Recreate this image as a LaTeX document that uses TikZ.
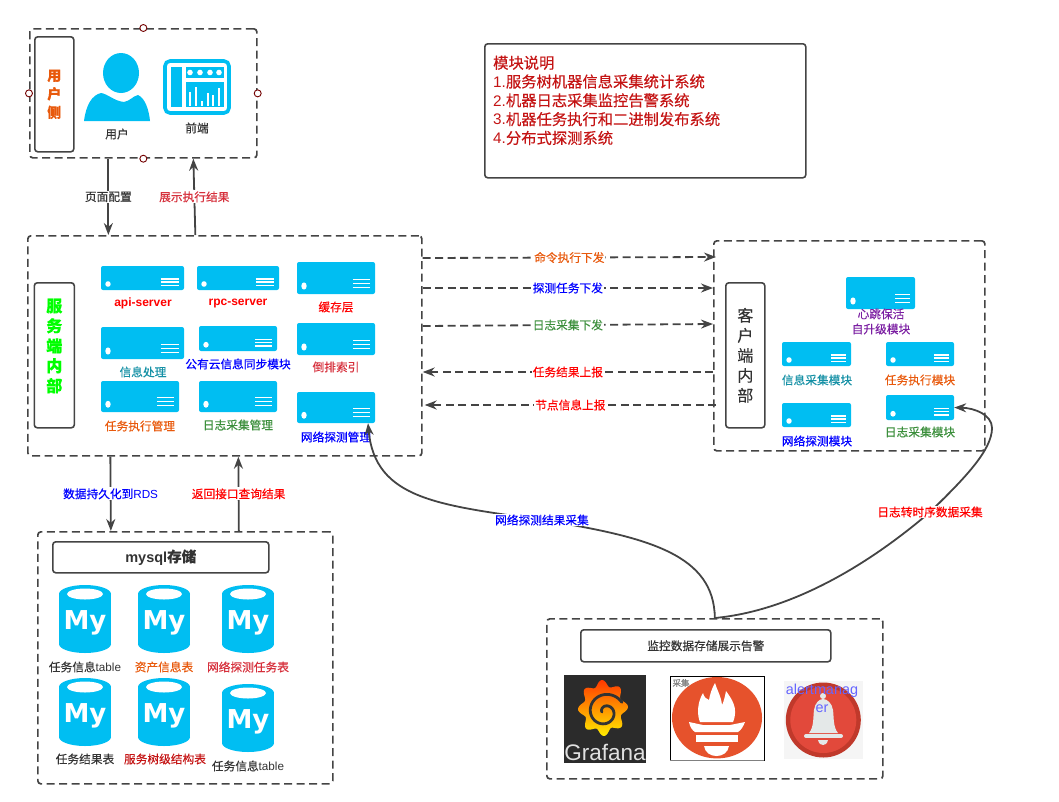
\documentclass[tikz,border=0pt]{standalone}
\usepackage{fontspec}
\setmainfont{Noto Sans CJK SC}[RawFeature={embolden=0.3}]
\newfontfamily\latfont{Liberation Sans}
\newfontfamily\logofont{DejaVu Sans}
\usetikzlibrary{arrows.meta}
\definecolor{iconblue}{HTML}{00BEF2}
\definecolor{linegray}{HTML}{444444}
\definecolor{txtgray}{HTML}{333333}
\definecolor{txtorange}{HTML}{E8590C}
\definecolor{txtgreen}{HTML}{3C8F3C}
\definecolor{txtteal}{HTML}{1590A5}
\definecolor{txtcrimson}{HTML}{D6303C}
\definecolor{txtdark}{HTML}{C41414}
\definecolor{txtpurple}{HTML}{7B1FA2}
\definecolor{promorange}{HTML}{E6522C}
\definecolor{alertring}{HTML}{C0392B}
\definecolor{alertfill}{HTML}{E2493B}
\definecolor{bellgray}{HTML}{E4E8E8}
\tikzset{
    dashbox/.style={draw=linegray, line width=1.7pt, dash pattern=on 8pt off 4.5pt, rounded corners=3pt, anchor=north west, inner sep=0pt},
    tagbox/.style={draw=linegray, line width=1.6pt, rounded corners=3pt, anchor=north west, inner sep=0pt, align=center},
    srvbody/.style={fill=iconblue, rounded corners=2pt, inner sep=0pt},
    txt/.style={font=\fontsize{11.7}{15}\selectfont, inner sep=1pt, align=center, text=txtgray},
    edgetxt/.style={txt, fill=white},
    arrowline/.style={draw=linegray, line width=1.8pt, -{Stealth[length=12pt,width=9pt]}},
    dasharrow/.style={arrowline, dash pattern=on 8pt off 4.5pt},
    handle/.style={circle, draw=red!45!black, fill=white, line width=0.9pt, minimum size=7pt, inner sep=0pt},
}
\newcommand{\serverbox}[5]{%
    \pgfmathsetmacro{\srvw}{#4-#2}
    \pgfmathsetmacro{\srvh}{#5-#3}
    \pgfmathsetmacro{\srvr}{0.1*\srvh+0.4}
    \node[srvbody, minimum width=\srvw pt, minimum height=\srvh pt] (#1) at ({(#2+#4)/2},{(#3+#5)/2}) {};
    \fill[white] ({#2+7},{#5-0.25*\srvh}) ellipse [x radius=2.7, y radius=\srvr];
    \foreach \lvl in {0.46,0.33,0.2}
        \draw[white, line width=1.2pt] ({#4-5-0.22*\srvw},{#5-\lvl*\srvh}) -- ({#4-5},{#5-\lvl*\srvh});
}
\newcommand{\mysqlcan}[3]{%
    \fill[iconblue] ({#2-26},{#3+9}) rectangle ({#2+26},{#3+59});
    \fill[iconblue] (#2,{#3+9}) ellipse [x radius=26, y radius=9];
    \fill[iconblue] (#2,{#3+59}) ellipse [x radius=26, y radius=9];
    \fill[white] (#2,{#3+9}) ellipse [x radius=18, y radius=5.5];
    \node[inner sep=0pt, text=white, font=\logofont\bfseries\fontsize{26}{26}\selectfont] (#1) at (#2,{#3+38}) {My};
}
\begin{document}
\begin{tikzpicture}[x=1pt, y=-1pt]
    \useasboundingbox (0,0) rectangle (1059,801);
    % user side
    \node[dashbox, minimum width=227pt, minimum height=129pt] (userside) at (29,28) {};
    \foreach \a in {north,south,east,west}
        \node[handle] (handle\a) at (userside.\a) {};
    \node[tagbox, minimum width=39pt, minimum height=115pt, text=txtorange, font=\bfseries\fontsize{14}{18.5}\selectfont] (usertag) at (34,36) {用\\户\\侧};
    \fill[iconblue] (121,73) ellipse [x radius=18, y radius=20];
    \fill[iconblue] (84,121) .. controls (86,105) and (92,95) .. (101,93) .. controls (108,94) and (114,101) .. (124,102) .. controls (130,101) and (133,96) .. (138,95) .. controls (145,98) and (149,110) .. (150,121) -- cycle;
    \node[txt] (userlabel) at (117,134) {用户};
    \draw[iconblue, line width=3.6pt, rounded corners=5pt] (165,61) rectangle (229,113);
    \fill[iconblue] (171,67) rectangle (182,107);
    \fill[iconblue] (186,67) rectangle (224,78);
    \fill[iconblue] (186,82) rectangle (224,107);
    \foreach \dotx in {190,200,210,219}
        \fill[white] (\dotx,72.5) circle (2.8);
    \foreach \barx/\bary in {189/92,195/87,201/101,207/93,212/95,218/88}
        \fill[white] (\barx,\bary) rectangle ({\barx+2.2},106);
    \node[txt] (frontlabel) at (197,128) {前端};

    % module notes
    \node[tagbox, minimum width=321pt, minimum height=134pt] (modulebox) at (484,43) {};
    \node[anchor=north west, inner sep=0pt, align=left, text=txtdark, font=\fontsize{15.3}{18.8}\selectfont] (moduletext) at (493,55.5) {模块说明\\{\latfont 1.}服务树机器信息采集统计系统\\{\latfont 2.}机器日志采集监控告警系统\\{\latfont 3.}机器任务执行和二进制发布系统\\{\latfont 4.}分布式探测系统};

    % server side
    \node[dashbox, minimum width=394pt, minimum height=220pt] (serverside) at (27,235) {};
    \node[tagbox, minimum width=40pt, minimum height=145pt, text=green, font=\bfseries\fontsize{16}{20}\selectfont] (servertag) at (33.5,282) {服\\务\\端\\内\\部\\~};
    \serverbox{apisrv}{101}{266}{184}{290}
    \serverbox{rpcsrv}{197}{266}{279}{290}
    \serverbox{cachesrv}{297}{262}{375}{294}
    \serverbox{infosrv}{101}{327}{184}{359}
    \serverbox{cloudsrv}{199}{326}{277}{351}
    \serverbox{indexsrv}{297}{323}{375}{355}
    \serverbox{tasksrv}{101}{381}{179}{412}
    \serverbox{logsrv}{199}{381}{277}{412}
    \serverbox{netsrv}{297}{392}{375}{423}
    \node[txt, text=red, font=\latfont\bfseries\fontsize{12}{14}\selectfont] (apilabel) at (143,303) {api-server};
    \node[txt, text=red, font=\latfont\bfseries\fontsize{12}{14}\selectfont] (rpclabel) at (238,303) {rpc-server};
    \node[txt, text=red] (cachelabel) at (336,307) {缓存层};
    \node[txt, text=txtteal] (infolabel) at (143,372) {信息处理};
    \node[txt, text=blue] (cloudlabel) at (238,364) {公有云信息同步模块};
    \node[txt, text=txtcrimson] (indexlabel) at (336,367) {倒排索引};
    \node[txt, text=txtorange] (tasklabel) at (140,426) {任务执行管理};
    \node[txt, text=txtgreen] (loglabel) at (238,425) {日志采集管理};
    \node[txt, text=blue] (netlabel) at (336,437) {网络探测管理};

    % client side
    \node[dashbox, minimum width=271pt, minimum height=210pt] (clientside) at (713,240) {};
    \node[tagbox, minimum width=39pt, minimum height=145pt, text=txtgray, font=\fontsize{16}{20}\selectfont] (clienttag) at (725,282) {客\\户\\端\\内\\部};
    \serverbox{heartcli}{846}{277}{915}{309}
    \serverbox{infocli}{782}{342}{851}{366}
    \serverbox{taskcli}{886}{342}{954}{366}
    \serverbox{netcli}{782}{403}{851}{427}
    \serverbox{logcli}{886}{395}{954}{420}
    \node[txt, text=txtpurple] (heartlabel) at (881,321.5) {心跳保活\\自升级模块};
    \node[txt, text=txtteal] (infoclilabel) at (817,380) {信息采集模块};
    \node[txt, text=txtorange] (taskclilabel) at (920,380) {任务执行模块};
    \node[txt, text=blue] (netclilabel) at (817,441) {网络探测模块};
    \node[txt, text=txtgreen] (logclilabel) at (920,432) {日志采集模块};

    % mysql
    \node[dashbox, minimum width=295pt, minimum height=252pt] (mysqlside) at (37,531) {};
    \node[tagbox, minimum width=216pt, minimum height=31pt, text=txtgray, font=\bfseries\fontsize{14.5}{17}\selectfont] (mysqltag) at (52,541) {{\latfont mysql}存储};
    \mysqlcan{canone}{85}{585}
    \mysqlcan{cantwo}{164}{585}
    \mysqlcan{canthree}{248}{585}
    \mysqlcan{canfour}{85}{678}
    \mysqlcan{canfive}{164}{678}
    \mysqlcan{cansix}{248}{684}
    \node[txt] (tableone) at (85,667) {任务信息{\latfont table}};
    \node[txt, text=txtorange] (tabletwo) at (164,667) {资产信息表};
    \node[txt, text=txtcrimson] (tablethree) at (248,667) {网络探测任务表};
    \node[txt] (tablefour) at (85,759) {任务结果表};
    \node[txt, text=txtdark] (tablefive) at (165,759) {服务树级结构表};
    \node[txt] (tablesix) at (248,766) {任务信息{\latfont table}};

    % monitoring
    \node[dashbox, minimum width=336pt, minimum height=160pt] (monitorside) at (546,618) {};
    \node[tagbox, minimum width=250pt, minimum height=32pt, text=txtgray, font=\fontsize{11.7}{14}\selectfont] (monitortag) at (580,629) {监控数据存储展示告警};
    % grafana
    \fill[black!83] (564,675) rectangle (646,763);
    \shade[top color=orange!45!red, bottom color=yellow!85!orange] plot[domain=0:360, samples=120] ({603+(22+3*cos(8*\x+20))*cos(\x)}, {708+(25+3*cos(8*\x+20))*sin(\x)}) -- cycle;
    \draw[black!80, line width=2.8pt, line cap=round] plot[domain=180:690, samples=90] ({605+(3+(\x-180)/31)*cos(\x)}, {712+(3+(\x-180)/31)*sin(\x)});
    \node[inner sep=0pt, text=black!12, font=\latfont\fontsize{22.5}{24}\selectfont] (grafanatext) at (605,752) {Grafana};
    % prometheus
    \draw[black, line width=1pt, fill=white] (670,676) rectangle (764,760.5);
    \draw[gray, line width=1pt] (670,760.5) -- (764,760.5);
    \fill[promorange] (717,717.7) ellipse [x radius=45, y radius=40.7];
    \fill[white] (700,722) .. controls (697,715) and (697,703) .. (703,693) .. controls (704,697) and (706,699) .. (709,700) .. controls (710,694) and (712,688) .. (715,683) .. controls (717,690) and (721,696) .. (722,705) .. controls (724,701) and (725,696) .. (726,691) .. controls (731,698) and (739,708) .. (733,722) -- cycle;
    \fill[white] (689,722) -- (703,725) -- (730,725) -- (745,722) .. controls (743,727) and (741,730) .. (738,732) -- (695,732) .. controls (692,730) and (690,727) .. (689,722) -- cycle;
    \fill[white] (696,735) rectangle (738,742);
    \fill[white] (704,746) -- (729,746) .. controls (728,753) and (722,756) .. (716.5,756) .. controls (711,756) and (705,753) .. (704,746) -- cycle;
    \node[inner sep=0pt, text=gray, font=\fontsize{8.5}{10}\selectfont] (promtext) at (681,683) {采集};
    % alertmanager
    \fill[black!4] (784,681) rectangle (863,759);
    \fill[alertring] (823.3,720) circle (37.5);
    \fill[alertfill] (823.3,720) circle (33);
    \fill[bellgray] (823,696) circle (3);
    \fill[bellgray] (809,733) .. controls (814,727) and (813,718) .. (814,710) .. controls (815,703) and (819,699) .. (823,699) .. controls (827,699) and (832,703) .. (833,710) .. controls (834,718) and (833,727) .. (838,733) -- cycle;
    \draw[bellgray, line width=4pt, line cap=round] (806,736) -- (841,736);
    \fill[bellgray] (818,740) -- (828,740) .. controls (827,744) and (825,745) .. (823,745) .. controls (821,745) and (819,744) .. (818,740) -- cycle;
    \node[inner sep=0pt, align=center, text=blue!60!white, font=\latfont\fontsize{14.4}{18}\selectfont] (alerttext) at (822,698) {alertmanag\\er};

    % connectors
    \draw[arrowline] ([xshift=-35pt]userside.south) -- node[edgetxt] (cfglabel) {页面配置} ([xshift=-116.5pt]serverside.north);
    \draw[arrowline] ([xshift=-29.5pt]serverside.north) -- node[edgetxt, text=txtcrimson] (showlabel) {展示执行结果} ([xshift=50pt]userside.south);
    \draw[dasharrow] ([yshift=-23pt]serverside.north east) -- node[edgetxt, text=txtorange] (cmdlabel) {命令执行下发} ([xshift=3pt,yshift=-17pt]clientside.north west);
    \draw[dasharrow] ([yshift=-53pt]serverside.north east) -- node[edgetxt, text=blue] (probelabel) {探测任务下发} ([yshift=-48pt]clientside.north west);
    \draw[dasharrow] ([yshift=-91pt]serverside.north east) -- node[edgetxt, text=txtgreen] (collectlabel) {日志采集下发} ([yshift=-84pt]clientside.north west);
    \draw[dasharrow] ([yshift=-132pt]clientside.north west) -- node[edgetxt, text=red] (resultlabel) {任务结果上报} ([yshift=-137pt]serverside.north east);
    \draw[dasharrow] ([xshift=3pt,yshift=-165pt]clientside.north west) -- node[edgetxt, text=red] (nodelabel) {节点信息上报} ([xshift=2pt,yshift=-170pt]serverside.north east);
    \draw[arrowline] ([xshift=-114.5pt]serverside.south) -- node[edgetxt, text=blue] (rdslabel) {数据持久化到{\latfont RDS}} ([xshift=-74.5pt]mysqlside.north);
    \draw[arrowline] ([xshift=53.5pt]mysqlside.north) -- node[edgetxt, text=red] (querylabel) {返回接口查询结果} ([xshift=13.5pt]serverside.south);
    \draw[arrowline] (monitorside.north) .. controls (714,555) and (650,537) .. (542,520) node[edgetxt, text=blue] (netcurve) {网络探测结果采集} .. controls (440,505) and (375,500) .. ([xshift=32pt]netsrv.south);
    \draw[arrowline] (monitorside.north) .. controls (800,610) and (880,555) .. (930,512) node[edgetxt, text=red] (logcurve) {日志转时序数据采集} .. controls (965,478) and (992,450) .. (992,428) .. controls (992,415) and (975,408) .. (logcli.east);
\end{tikzpicture}
\end{document}
